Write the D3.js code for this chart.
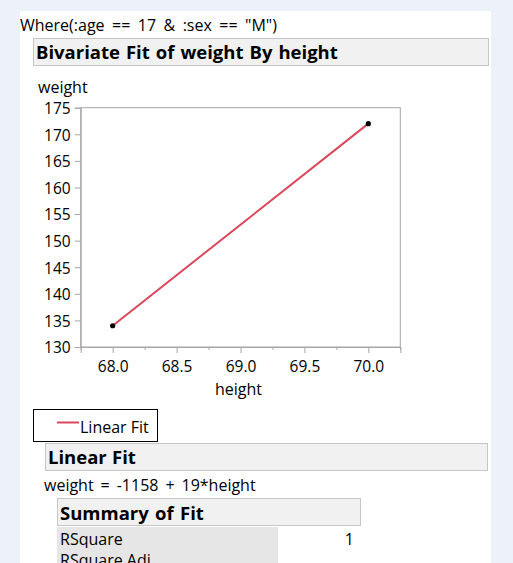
<!DOCTYPE html>
<html><head><meta charset="utf-8">
<script src="https://cdn.jsdelivr.net/npm/d3@7"></script>
<style>
html,body{margin:0;padding:0;background:#edf1f9;overflow:hidden}
text{font-family:"Open Sans","Noto Sans",sans-serif;fill:#000}
</style></head><body>
<svg id="c" width="513" height="563"></svg>
<script>
// Data
const heights = [68, 70];
const weights = [134, 172];
const fitIntercept = -1158;
const fitSlope = 19;
const yTicks = [130, 135, 140, 145, 150, 155, 160, 165, 170, 175];
const xTicks = [68.0, 68.5, 69.0, 69.5, 70.0];
const xMinorTicks = [67.75, 68.25, 68.75, 69.25, 69.75, 70.25];
const whereText = 'Where(:age == 17 & :sex == "M")';
const titleText = "Bivariate Fit of weight By height";
const legendLabels = ["Linear Fit"];
const summaryRows = [["RSquare", "1"], ["RSquare Adj", ""]];

const svg = d3.select("#c");
const F = '"Open Sans","Noto Sans",sans-serif';

// white report panel
svg.append("rect").attr("x", 20).attr("y", 11).attr("width", 471).attr("height", 560).attr("fill", "#fff");

svg.append("text").attr("x", 20).attr("y", 31).attr("font-size", 16).attr("word-spacing", 3.3).text(whereText);

function header(x, y, w, h, txt, tx, ty, ws) {
  svg.append("rect").attr("x", x + 0.5).attr("y", y + 0.5).attr("width", w).attr("height", h)
    .attr("fill", "#f1f1f1").attr("stroke", "#c6c6c6");
  svg.append("text").attr("x", tx).attr("y", ty).attr("font-size", 18.5).attr("font-weight", "bold")
    .attr("word-spacing", ws).text(txt);
}
header(33, 38, 455, 27, titleText, 36, 59, 1.2);

// scales
const x = d3.scaleLinear().domain([67.75, 70.25]).range([80.7, 400.3]);
const y = d3.scaleLinear().domain([130, 175]).range([347, 107.7]);

// frame
svg.append("rect").attr("x", x.range()[0]).attr("y", y.range()[1])
  .attr("width", x.range()[1] - x.range()[0]).attr("height", y.range()[0] - y.range()[1])
  .attr("fill", "none").attr("stroke", "#a6a6a6");

// y axis
const ya = svg.append("g").attr("transform", `translate(${x.range()[0]},0)`)
  .call(d3.axisLeft(y).tickValues(yTicks).tickSize(6).tickPadding(4).tickFormat(d3.format("d")));
ya.select(".domain").attr("stroke", "#a6a6a6");
ya.selectAll(".tick line").attr("stroke", "#a6a6a6");
ya.selectAll("text").attr("font-size", 15.5).attr("font-family", F).attr("fill", "#000").attr("dy", null).attr("y", 5.8);

// x axis
const xa = svg.append("g").attr("transform", `translate(0,${y.range()[0]})`)
  .call(d3.axisBottom(x).tickValues(xTicks).tickSize(6).tickPadding(6).tickFormat(d3.format(".1f")));
xa.select(".domain").attr("stroke", "#a6a6a6");
xa.selectAll(".tick line").attr("stroke", "#a6a6a6");
xa.selectAll("text").attr("font-size", 15.5).attr("font-family", F).attr("fill", "#000").attr("dy", null).attr("y", 25);
const xm = svg.append("g").attr("transform", `translate(0,${y.range()[0]})`)
  .call(d3.axisBottom(x).tickValues(xMinorTicks).tickSize(3).tickFormat(""));
xm.select(".domain").remove();
xm.selectAll(".tick line").attr("stroke", "#a6a6a6");

// axis titles
svg.append("text").attr("x", 38).attr("y", 93).attr("font-size", 16).text("weight");
svg.append("text").attr("x", 238.5).attr("y", 395).attr("text-anchor", "middle").attr("font-size", 16).text("height");

// fit line
const fitColor = "#d9485a";
svg.append("line")
  .attr("x1", x(heights[0])).attr("y1", y(fitIntercept + fitSlope * heights[0]))
  .attr("x2", x(heights[1])).attr("y2", y(fitIntercept + fitSlope * heights[1]))
  .attr("stroke", fitColor).attr("stroke-width", 2);

// points
svg.selectAll("circle.pt").data(heights).enter().append("circle").attr("class", "pt")
  .attr("cx", (d) => x(d)).attr("cy", (d, i) => y(weights[i])).attr("r", 2.6).attr("fill", "#000");

// legend
svg.append("rect").attr("x", 33.5).attr("y", 409.5).attr("width", 124).attr("height", 32)
  .attr("fill", "#fff").attr("stroke", "#000");
svg.append("line").attr("x1", 57).attr("x2", 79).attr("y1", 422.5).attr("y2", 422.5).attr("stroke", fitColor).attr("stroke-width", 2);
svg.append("text").attr("x", 80).attr("y", 433).attr("font-size", 16).text(legendLabels[0]);

// Linear fit header
header(45, 443, 442, 27, "Linear Fit", 48, 464, 0.5);
svg.append("text").attr("x", 44).attr("y", 491).attr("font-size", 16).attr("word-spacing", 2.8)
  .text(`weight = ${fitIntercept} + ${fitSlope}*height`);

// Summary of fit
header(57, 498, 303, 27, "Summary of Fit", 60, 520, 1.5);
summaryRows.forEach((r, i) => {
  const ry = 527 + i * 21;
  svg.append("rect").attr("x", 57).attr("y", ry).attr("width", 221).attr("height", 21).attr("fill", "#e6e6e6");
  svg.append("text").attr("x", 60).attr("y", ry + 18).attr("font-size", 16).text(r[0]);
  svg.append("text").attr("x", 354).attr("y", ry + 18).attr("text-anchor", "end").attr("font-size", 16).text(r[1]);
});
</script></body></html>
